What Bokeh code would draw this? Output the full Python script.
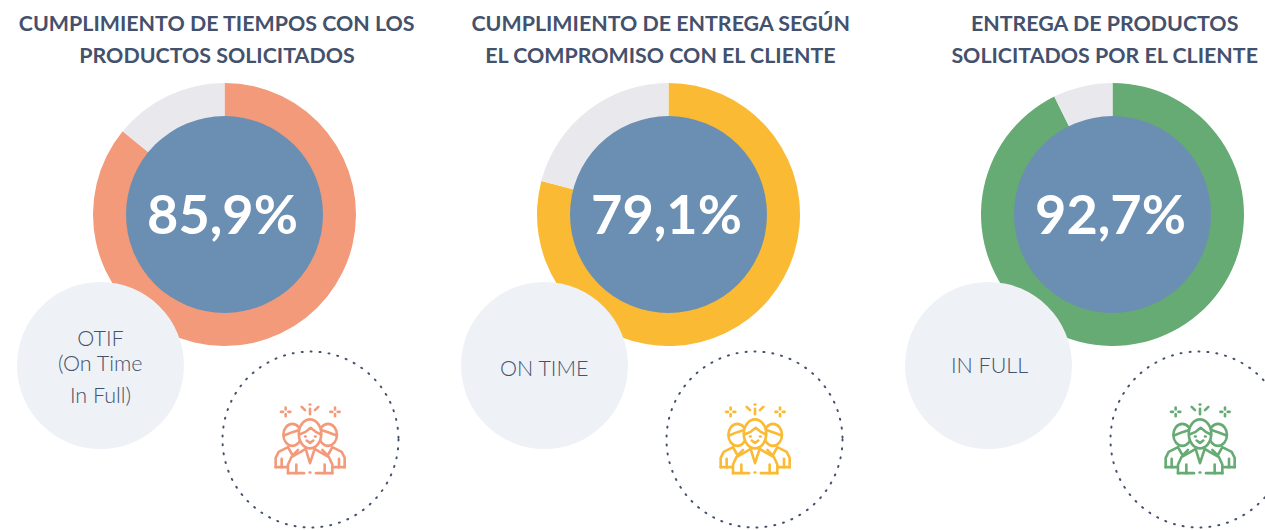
from math import pi
from bokeh.plotting import figure
from bokeh.embed import file_html
from bokeh.resources import INLINE
from bokeh.core.properties import value

# ---- data
percents = [85.9, 79.1, 92.7]
title_line1 = ["CUMPLIMIENTO DE TIEMPOS CON LOS", "CUMPLIMIENTO DE ENTREGA SEGÚN", "ENTREGA DE PRODUCTOS"]
title_line2 = ["PRODUCTOS SOLICITADOS", "EL COMPROMISO CON EL CLIENTE", "SOLICITADOS POR EL CLIENTE"]
badge_lines = [["OTIF", "(On Time", "In Full)"], ["ON TIME"], ["IN FULL"]]
badge_ys = [[337.5, 362.5, 394.5], [367.5], [364.5]]
colors = ["#F39A7B", "#FBBA33", "#65AB73"]

INK = "#44516D"
REST = "#E8E8ED"
CORE = "#6B8FB2"
BADGE = "#EEF1F6"
FONT = "Lato"

W, H = 1265, 530
p = figure(width=W, height=H, x_range=(0, W), y_range=(0, H),
           output_backend="svg", toolbar_location=None, min_border=0)
p.axis.visible = False
p.grid.visible = False
p.outline_line_color = None
p.background_fill_color = "white"
p.border_fill_color = "white"


def Y(py):
    return 530 - py


def X(zx, ox):
    return ox + (zx - 298) / 3


def YI(zy):
    return Y(445 + (zy - 315) / 3)


def draw_icon(ox, col):
    lw = 2.6
    # side heads
    for zx in (245, 352):
        p.ellipse(x=[X(zx, ox)], y=[YI(283)], width=[18], height=[22], fill_color="white",
                  line_color=col, line_width=lw)
    side = [
        [(195, 380), (195, 352), (204, 334), (232, 320), (246, 345), (262, 328)],
        [(402, 380), (402, 352), (393, 334), (365, 320), (351, 345), (335, 328)],
        [(195, 380), (232, 380)], [(402, 380), (365, 380)],
        [(213, 355), (213, 380)], [(385, 355), (385, 380)],
        [(220, 285), (245, 275), (268, 268)], [(378, 285), (352, 275), (330, 268)],
    ]
    # centre figure
    body = [(232, 398), (232, 372), (242, 350), (270, 334), (285, 325), (312, 325), (327, 334),
            (355, 350), (365, 372), (365, 398)]
    centre = [
        [(232, 398), (232, 372), (242, 350), (270, 334), (285, 325), (298, 368), (312, 325),
         (327, 334), (355, 350), (365, 372), (365, 398)],
        [(232, 398), (280, 398)], [(316, 398), (365, 398)], [(297, 396), (299, 396)],
        [(257, 372), (257, 398)], [(342, 372), (342, 398)],
        [(266, 282), (285, 274), (300, 262), (315, 274), (331, 282)],
        [(288, 300), (298, 307), (308, 300)],
        [(283, 288), (285, 288)], [(313, 288), (315, 288)],
        # sparkles
        [(298, 205), (298, 221)], [(297, 192), (299, 192)],
        [(273, 199), (283, 209)], [(323, 199), (313, 209)],
    ]
    for cx in (225, 373):
        centre += [[(cx, 201), (cx, 207)], [(cx, 221), (cx, 227)],
                   [(cx - 14, 214), (cx - 8, 214)], [(cx + 8, 214), (cx + 14, 214)]]
    to_xs = lambda ls: [[X(a, ox) for a, _ in l] for l in ls]
    to_ys = lambda ls: [[YI(b) for _, b in l] for l in ls]
    p.multi_line(to_xs(side), to_ys(side), line_color=col, line_width=lw, line_cap="round", line_join="round")
    p.patch([X(a, ox) for a, _ in body], [YI(b) for _, b in body], fill_color="white", line_color=None)
    p.ellipse(x=[X(298, ox)], y=[YI(280)], width=[22.5], height=[29], fill_color="white",
              line_color=col, line_width=lw)
    p.multi_line(to_xs(centre), to_ys(centre), line_color=col, line_width=lw, line_cap="round", line_join="round")


centers = [224, 668, 1112]
for i, pct in enumerate(percents):
    cx = centers[i]
    cy = Y(214)
    top = pi / 2
    end = top - pct / 100 * 2 * pi
    # coloured share runs clockwise from the top, the rest closes the ring
    p.annular_wedge(x=[cx], y=[cy], inner_radius=90, outer_radius=131.5, start_angle=top, end_angle=end,
                    direction="clock", fill_color=colors[i], line_color=None)
    p.annular_wedge(x=[cx], y=[cy], inner_radius=90, outer_radius=131.5, start_angle=end, end_angle=top,
                    direction="clock", fill_color=REST, line_color=None)
    p.circle(x=[cx], y=[cy], radius=98.5, fill_color=CORE, line_color=None)
    p.text(x=[cx - 2], y=[cy + 1], text=[f"{pct:.1f}%".replace(".", ",")], text_font=value(FONT),
           text_font_size="54px", text_font_style="bold", text_color="white",
           text_align="center", text_baseline="middle")

    # badge
    p.circle(x=[cx - 124], y=[Y(365)], radius=83.5, fill_color=BADGE, line_color=None)
    for line, ly in zip(badge_lines[i], badge_ys[i]):
        p.text(x=[cx - 124 + (1 if i == 2 else 0)], y=[Y(ly)], text=[line], text_font=value("Lato Light"),
               text_font_size="21.5px", text_color=INK, text_align="center", text_baseline="middle")

    # dotted ring and icon
    p.circle(x=[cx + 86], y=[Y(439)], radius=88, fill_color=None, line_color=INK,
             line_width=2, line_dash="1 8", line_cap="round")
    draw_icon(309.5 + i * 445, colors[i])

    # titles
    for line, ly in ((title_line1[i], 22), (title_line2[i], 54)):
        p.text(x=[cx - 7.5], y=[Y(ly)], text=[line], text_font=value(FONT), text_font_size="21.4px",
               text_font_style="bold", text_color=INK, text_align="center", text_baseline="middle")

open("out.html", "w").write(file_html(p, INLINE))
